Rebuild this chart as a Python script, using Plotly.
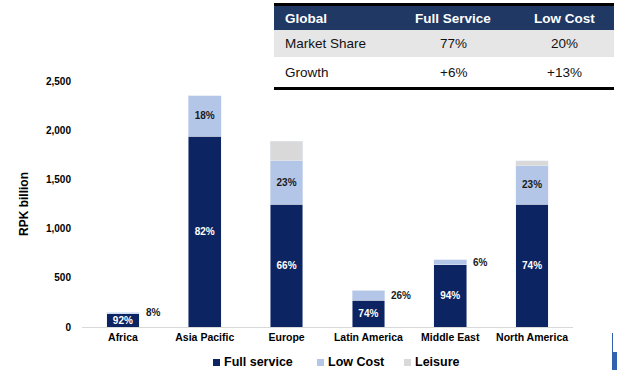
import plotly.graph_objects as go

# ---------------- data ----------------
regions = ["Africa", "Asia Pacific", "Europe", "Latin America", "Middle East", "North America"]
full_service = [135, 1940, 1250, 270, 635, 1250]
low_cost = [17, 410, 440, 105, 50, 390]
leisure = [0, 0, 200, 0, 0, 50]
full_pct = ["92%", "82%", "66%", "74%", "94%", "74%"]
low_pct = ["8%", "18%", "23%", "26%", "6%", "23%"]
low_pct_outside = ["Africa", "Latin America", "Middle East"]
series_names = ["Full service", "Low Cost", "Leisure"]
y_ticks = [0, 500, 1000, 1500, 2000, 2500]
y_tick_labels = ["0", "500", "1,000", "1,500", "2,000", "2,500"]

table_header = ["Global", "Full Service", "Low Cost"]
table_rows = [["Market Share", "77%", "20%"],
              ["Growth", "+6%", "+13%"]]

# ---------------- style ----------------
W, H = 617, 371
ML, MR, MT, MB = 82, 44, 81, 44
PW, PH = W - ML - MR, H - MT - MB
FONT = "Liberation Sans, Arial, sans-serif"
NAVY = "#0c2462"
LIGHT = "#b4c6e7"
GREY = "#d9d9d9"
HEADER = "#1f3864"
ROWGREY = "#e7e6e6"
LOGO = "#2f63b0"
SERIES_COLORS = [NAVY, LIGHT, GREY]
LEGEND_SQ_X = [213, 317, 404]   # pixel positions of legend swatches
LEGEND_Y = 362


def px(x):
    return (x - ML) / PW


def py(y):
    return (H - MB - y) / PH


fig = go.Figure()

in_low = [("" if r in low_pct_outside else t) for r, t in zip(regions, low_pct)]

fig.add_bar(x=regions, y=full_service, name=series_names[0], marker_color=SERIES_COLORS[0],
            text=full_pct, textposition="inside", insidetextanchor="middle",
            constraintext="none",
            textfont=dict(family=FONT, size=10, color="white", weight="bold"))
fig.add_bar(x=regions, y=low_cost, name=series_names[1], marker_color=SERIES_COLORS[1],
            text=in_low, textposition="inside", insidetextanchor="middle",
            constraintext="none",
            textfont=dict(family=FONT, size=10, color="#1a1a1a", weight="bold"))
fig.add_bar(x=regions, y=leisure, name=series_names[2], marker_color=SERIES_COLORS[2])

for r, f, l, t in zip(regions, full_service, low_cost, low_pct):
    if r in low_pct_outside:
        fig.add_annotation(x=r, y=f + l / 2, text=t, showarrow=False,
                           xanchor="left", yanchor="middle", xshift=21,
                           font=dict(family=FONT, size=10, color="#1a1a1a", weight="bold"))

shapes = []
# ---------------- legend (custom, swatch right next to text) ----------------
for name, col, sx in zip(series_names, SERIES_COLORS, LEGEND_SQ_X):
    shapes.append(dict(type="rect", xref="paper", yref="paper", x0=px(sx), x1=px(sx + 7),
                       y0=py(LEGEND_Y + 4), y1=py(LEGEND_Y - 3), fillcolor=col, line_width=0))
    fig.add_annotation(xref="paper", yref="paper", x=px(sx + 9), y=py(LEGEND_Y), text=name,
                       showarrow=False, xanchor="left", yanchor="middle",
                       font=dict(family=FONT, size=12.5, color="black", weight="bold"))

# ---------------- cropped logo fragment at bottom-right ----------------
shapes.append(dict(type="line", xref="paper", yref="paper", x0=px(612.5), x1=px(612.5),
                   y0=py(352), y1=py(333), line=dict(color=LOGO, width=1)))
shapes.append(dict(type="rect", xref="paper", yref="paper", x0=px(612), x1=px(617),
                   y0=py(370), y1=py(352), fillcolor=LOGO, line_width=0))

# ---------------- table ----------------
tbl_l, tbl_r = 274, 614
row_edges = [6, 30, 57, 87]
col_x = [283, 453, 564]
shapes.append(dict(type="rect", xref="paper", yref="paper", x0=px(tbl_l), x1=px(tbl_r),
                   y0=py(row_edges[1]), y1=py(row_edges[0]), fillcolor=HEADER, line_width=0, layer="above"))
shapes.append(dict(type="rect", xref="paper", yref="paper", x0=px(tbl_l), x1=px(tbl_r),
                   y0=py(row_edges[2]), y1=py(row_edges[1]), fillcolor=ROWGREY, line_width=0, layer="above"))
shapes.append(dict(type="rect", xref="paper", yref="paper", x0=px(tbl_l), x1=px(tbl_r),
                   y0=py(row_edges[3]), y1=py(row_edges[2]), fillcolor="white", line_width=0, layer="above"))
for yy in (4.5, 88.5):
    shapes.append(dict(type="line", xref="paper", yref="paper", x0=px(tbl_l), x1=px(tbl_r),
                       y0=py(yy), y1=py(yy), line=dict(color="black", width=3), layer="above"))
fig.update_layout(shapes=shapes)

for j, h in enumerate(table_header):
    fig.add_annotation(xref="paper", yref="paper", x=px(col_x[j]),
                       y=py((row_edges[0] + row_edges[1]) / 2), text=h, showarrow=False,
                       xanchor="left" if j == 0 else "center", yanchor="middle",
                       font=dict(family=FONT, size=13.5, color="white", weight="bold"))
for i, row in enumerate(table_rows):
    for j, v in enumerate(row):
        fig.add_annotation(xref="paper", yref="paper", x=px(col_x[j]),
                           y=py((row_edges[i + 1] + row_edges[i + 2]) / 2), text=v, showarrow=False,
                           xanchor="left" if j == 0 else "center", yanchor="middle",
                           font=dict(family=FONT, size=13.5, color="#111111"))

fig.update_layout(
    width=W, height=H,
    margin=dict(l=ML, r=MR, t=MT, b=MB, autoexpand=False),
    barmode="stack", bargap=0.6,
    paper_bgcolor="white", plot_bgcolor="white",
    font=dict(family=FONT, color="black"),
    showlegend=False,
    xaxis=dict(showline=True, linecolor=GREY, linewidth=1, ticks="", showgrid=False,
               tickfont=dict(family=FONT, size=10.5, color="black", weight="bold")),
    yaxis=dict(range=[0, 2500], tickvals=y_ticks, ticktext=y_tick_labels, showgrid=False,
               showline=False, zeroline=False, ticks="", ticklabelstandoff=10,
               tickfont=dict(family=FONT, size=10, color="black", weight="bold"),
               title=dict(text="RPK billion", standoff=14,
                          font=dict(family=FONT, size=12, color="black", weight="bold"))),
)

fig.write_html("out.html", config={"displayModeBar": False},
               post_script="document.body.style.margin='0';document.body.style.overflow='hidden';")
